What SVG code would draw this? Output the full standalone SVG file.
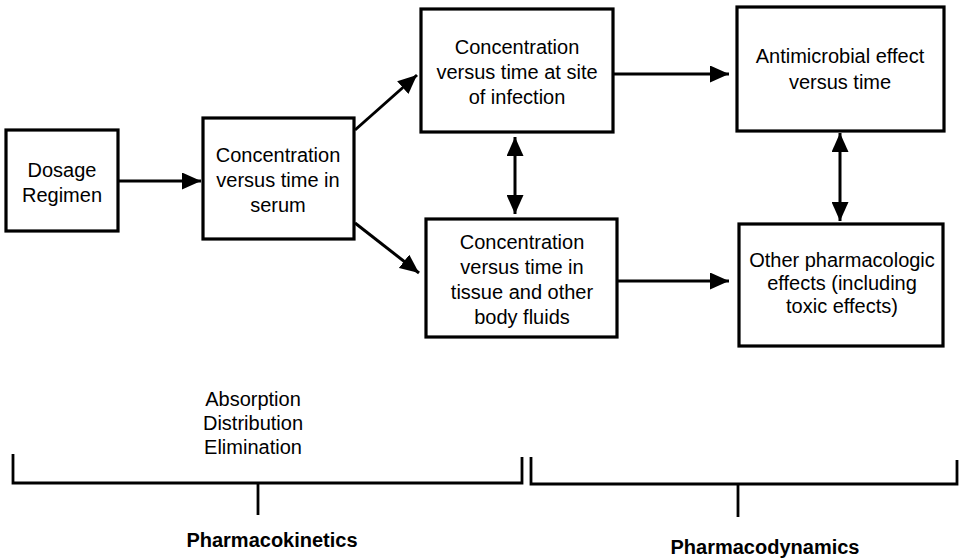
<svg xmlns="http://www.w3.org/2000/svg" width="961" height="558" viewBox="0 0 961 558">
<style>
  .box { fill: #fff; stroke: #000; stroke-width: 3.2; }
  .t { font-family: "Liberation Sans", Arial, sans-serif; font-size: 20px; fill: #000; text-anchor: middle; }
  .b { font-weight: bold; }
  .conn { stroke: #000; stroke-width: 3; fill: none; }
  .br { stroke: #000; stroke-width: 2.8; fill: none; }
</style>
<defs>
  <marker id="ah" viewBox="0 0 19 17" refX="19" refY="8.5" markerWidth="19" markerHeight="17" markerUnits="userSpaceOnUse" orient="auto-start-reverse">
    <path d="M0,0 L19,8.5 L0,17 Z" fill="#000"/>
  </marker>
</defs>
<rect width="961" height="558" fill="#fff"/>

<g id="dosage">
  <rect class="box" x="6" y="130" width="112" height="101"/>
  <text class="t" x="62" y="177">Dosage</text>
  <text class="t" x="62" y="202">Regimen</text>
</g>
<g id="serum">
  <rect class="box" x="203" y="118" width="151" height="121"/>
  <text class="t" x="278" y="162">Concentration</text>
  <text class="t" x="278" y="187">versus time in</text>
  <text class="t" x="278" y="212">serum</text>
</g>
<g id="site">
  <rect class="box" x="421" y="9" width="192" height="123"/>
  <text class="t" x="517" y="54">Concentration</text>
  <text class="t" x="517" y="79">versus time at site</text>
  <text class="t" x="517" y="104">of infection</text>
</g>
<g id="tissue">
  <rect class="box" x="426" y="219" width="191" height="118"/>
  <text class="t" x="522" y="249">Concentration</text>
  <text class="t" x="522" y="274">versus time in</text>
  <text class="t" x="522" y="299">tissue and other</text>
  <text class="t" x="522" y="324">body fluids</text>
</g>
<g id="antimicrobial">
  <rect class="box" x="737" y="7" width="207" height="124"/>
  <text class="t" x="840" y="63">Antimicrobial effect</text>
  <text class="t" x="840" y="89">versus time</text>
</g>
<g id="other">
  <rect class="box" x="739" y="224" width="204" height="122"/>
  <text class="t" x="842" y="267">Other pharmacologic</text>
  <text class="t" x="842" y="290">effects (including</text>
  <text class="t" x="842" y="313">toxic effects)</text>
</g>

<g id="connectors">
  <line class="conn" x1="118" y1="181" x2="201" y2="181" marker-end="url(#ah)"/>
  <line class="conn" x1="355" y1="130" x2="417" y2="75" marker-end="url(#ah)"/>
  <line class="conn" x1="355" y1="223" x2="419" y2="273" marker-end="url(#ah)"/>
  <line class="conn" x1="614" y1="74" x2="729" y2="74" marker-end="url(#ah)"/>
  <line class="conn" x1="617" y1="281" x2="729" y2="281" marker-end="url(#ah)"/>
  <line class="conn" x1="515" y1="137" x2="515" y2="214" marker-start="url(#ah)" marker-end="url(#ah)"/>
  <line class="conn" x1="840" y1="133" x2="840" y2="221" marker-start="url(#ah)" marker-end="url(#ah)"/>
</g>

<g id="absorption-label">
  <text class="t" x="253" y="406">Absorption</text>
  <text class="t" x="253" y="430">Distribution</text>
  <text class="t" x="253" y="454">Elimination</text>
</g>

<g id="brackets">
  <path class="br" d="M13,454 V483 H522 V457"/>
  <line class="br" x1="258" y1="483" x2="258" y2="515"/>
  <path class="br" d="M531,457 V484 H957 V460"/>
  <line class="br" x1="738" y1="484" x2="738" y2="517"/>
</g>

<g id="pk-label">
  <text class="t b" x="272" y="547">Pharmacokinetics</text>
</g>
<g id="pd-label">
  <text class="t b" x="765" y="554">Pharmacodynamics</text>
</g>
</svg>
